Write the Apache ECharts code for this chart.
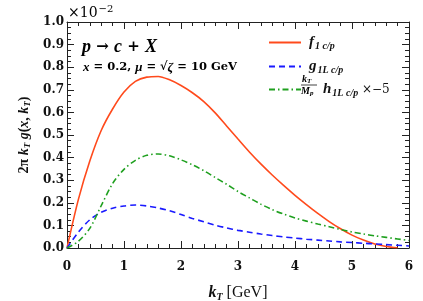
<!DOCTYPE html>
<html><head><meta charset="utf-8">
<script src="https://cdn.jsdelivr.net/npm/echarts@6/dist/echarts.min.js"></script>
<style>html,body{margin:0;padding:0;background:#fff}#c{width:423px;height:301px}</style>
</head><body><div id="c"></div>
<script>
const kT  = [0,0.2,0.4,0.6,0.8,1.0,1.2,1.4,1.6,1.8,2.0,2.2,2.4,2.6,2.8,3.0,3.2,3.4,3.6,3.8,4.0,4.2,4.4,4.6,4.8,5.0,5.2,5.4,5.6,5.8,6.0];
const f1  = [0,0.215,0.385,0.52,0.615,0.69,0.737,0.756,0.759,0.744,0.719,0.687,0.648,0.598,0.54,0.482,0.425,0.372,0.323,0.277,0.233,0.192,0.153,0.117,0.085,0.057,0.035,0.018,0.007,0.001,null];
const g1L = [0,0.07,0.125,0.158,0.176,0.186,0.19,0.186,0.177,0.165,0.148,0.131,0.116,0.101,0.089,0.078,0.07,0.062,0.055,0.049,0.044,0.039,0.035,0.031,0.027,0.024,0.021,0.018,0.015,0.012,0.009];
const h1L = [0,0.03,0.087,0.187,0.285,0.348,0.388,0.41,0.416,0.408,0.39,0.368,0.342,0.312,0.282,0.25,0.222,0.194,0.17,0.15,0.133,0.119,0.106,0.094,0.082,0.071,0.062,0.054,0.047,0.04,0.033];

const pair = a => kT.map((k,i)=>[k,a[i]]);
const SERIF = '"DejaVu Serif", serif';
const MATH = '"Liberation Serif", serif';
const RED='#ff4a1c', BLUE='#1a1aff', GREEN='#1fa01f';
const FRAME='#222';
const G = {left:67,right:14,top:22,bottom:53};

const grids = [{left:G.left,right:G.right,top:G.top,bottom:G.bottom,outerBoundsMode:'none'}];
const labelStyle = {fontFamily:SERIF,fontWeight:'bold',fontSize:12,color:'#111'};
const noTicks = {axisTick:{show:false},minorTick:{show:false},splitLine:{show:false}};
const xAxes = [
  Object.assign({type:'value',gridIndex:0,min:0,max:6,interval:1,position:'bottom',
    axisLine:{show:true,onZero:false,lineStyle:{color:FRAME}},
    axisLabel:Object.assign({margin:13},labelStyle),
    name:'{i|k}{s|T}{n| [GeV]}',nameLocation:'middle',nameGap:36,
    nameTextStyle:{rich:{
      i:{fontFamily:MATH,fontStyle:'italic',fontWeight:'bold',fontSize:16,color:'#111'},
      s:{fontFamily:MATH,fontStyle:'italic',fontWeight:'bold',fontSize:10,color:'#111',padding:[8,0,0,0]},
      n:{fontFamily:MATH,fontSize:16,color:'#111'}}}},noTicks),
  Object.assign({type:'value',gridIndex:0,min:0,max:6,interval:1,position:'top',
    axisLine:{show:true,onZero:false,lineStyle:{color:FRAME}},axisLabel:{show:false}},noTicks)
];
const yAxes = [
  Object.assign({type:'value',gridIndex:0,min:0,max:1,interval:0.1,position:'left',
    axisLine:{show:true,onZero:false,lineStyle:{color:FRAME}},
    axisLabel:Object.assign({margin:3,formatter:v=>v.toFixed(1)},labelStyle),
    name:'{n|2π}{i| k}{s|T}{i| g}{n|(}{i|x}{n|, }{i|k}{s|T}{n|)}',nameLocation:'middle',nameGap:33,nameRotate:90,
    nameTextStyle:{rich:{
      i:{fontFamily:MATH,fontStyle:'italic',fontWeight:'bold',fontSize:14,color:'#111'},
      s:{fontFamily:MATH,fontStyle:'italic',fontWeight:'bold',fontSize:9,color:'#111',padding:[7,0,0,0]},
      n:{fontFamily:MATH,fontWeight:'bold',fontSize:14,color:'#111'}}}},noTicks),
  Object.assign({type:'value',gridIndex:0,min:0,max:1,interval:0.1,position:'right',
    axisLine:{show:true,onZero:false,lineStyle:{color:FRAME}},axisLabel:{show:false}},noTicks)
];

// tick strips: thin grids along each edge whose split lines act as inward ticks
function tickStrip(side, len, interval){
  const gi = grids.length;
  const g = {outerBoundsMode:'none'};
  if (side==='bottom') Object.assign(g,{left:G.left,right:G.right,bottom:G.bottom,height:len});
  if (side==='top')    Object.assign(g,{left:G.left,right:G.right,top:G.top,height:len});
  if (side==='left')   Object.assign(g,{left:G.left,top:G.top,bottom:G.bottom,width:len});
  if (side==='right')  Object.assign(g,{right:G.right,top:G.top,bottom:G.bottom,width:len});
  grids.push(g);
  const tickAx = {type:'value',gridIndex:gi,interval:interval,
    axisLine:{show:false},axisTick:{show:false},axisLabel:{show:false},
    splitLine:{show:true,lineStyle:{color:FRAME,width:1}}};
  const hidden = {type:'value',gridIndex:gi,show:false,min:0,max:1};
  if (side==='bottom'||side==='top'){
    xAxes.push(Object.assign({min:0,max:6},tickAx)); yAxes.push(hidden);
  } else {
    yAxes.push(Object.assign({min:0,max:1},tickAx)); xAxes.push(hidden);
  }
}
['bottom','top'].forEach(s=>{tickStrip(s,7,1);tickStrip(s,4,0.2);});
['left','right'].forEach(s=>{tickStrip(s,7,0.1);tickStrip(s,4,0.025);});

const chart = echarts.init(document.getElementById('c'));
const legendText = {
  f1: '{i|f}{s|1 c/p}',
  g1L: '{i|g}{s|1L c/p}',
  h1L: '{i|h}{s|1L c/p}{n| ×−5}'
};
const legRich = {
  i:{fontFamily:MATH,fontStyle:'italic',fontWeight:'bold',fontSize:15,color:'#111'},
  s:{fontFamily:MATH,fontStyle:'italic',fontWeight:'bold',fontSize:10,color:'#111',padding:[7,0,0,1]},
  n:{fontFamily:SERIF,fontSize:12,color:'#111'}
};
function leg(name, top, extraPad){
  return {data:[name],left:263,top:top,itemWidth:32,itemHeight:10,itemGap:0,
    selectedMode:false,
    itemStyle:{opacity:0},
    formatter:n=>legendText[n],
    textStyle:{rich:legRich,padding:[0,0,0,extraPad]}};
}
chart.setOption({
  animation:false,
  grid:grids,
  legend:[leg('f1',30,3),leg('g1L',54,3),leg('h1L',77,17)],
  xAxis:xAxes,
  yAxis:yAxes,
  series:[
    {name:'f1',type:'line',xAxisIndex:0,yAxisIndex:0,data:pair(f1),showSymbol:false,symbol:'none',smooth:0.3,
      lineStyle:{color:RED,width:1.6},itemStyle:{color:RED}},
    {name:'g1L',type:'line',xAxisIndex:0,yAxisIndex:0,data:pair(g1L),showSymbol:false,symbol:'none',smooth:0.3,
      lineStyle:{color:BLUE,width:1.6,type:[6,4]},itemStyle:{color:BLUE}},
    {name:'h1L',type:'line',xAxisIndex:0,yAxisIndex:0,data:pair(h1L),showSymbol:false,symbol:'none',smooth:0.3,
      lineStyle:{color:GREEN,width:1.6,type:[6,3,1.5,3]},itemStyle:{color:GREEN}}
  ],
  graphic:[
    {type:'text',left:68,top:4,style:{text:'{n|×10}{s|−2}',rich:{
      n:{fontFamily:SERIF,fontSize:14,color:'#111'},
      s:{fontFamily:SERIF,fontSize:10,color:'#111',padding:[0,0,8,1]}}}},
    {type:'text',left:82,top:38,style:{text:'{i|p}{n| → }{i|c}{n| + }{i|X}',rich:{
      i:{fontFamily:MATH,fontStyle:'italic',fontWeight:'bold',fontSize:18,color:'#111'},
      n:{fontFamily:SERIF,fontWeight:'bold',fontSize:15,color:'#111'}}}},
    {type:'text',left:83,top:61,style:{text:'{i|x}{n| = 0.2, }{i|μ}{n| = √}{i|ζ}{n| = 10 GeV}',rich:{
      i:{fontFamily:MATH,fontStyle:'italic',fontWeight:'bold',fontSize:13,color:'#111'},
      n:{fontFamily:SERIF,fontWeight:'bold',fontSize:11.5,color:'#111'}}}},
    {type:'text',left:302,top:74,style:{text:'{i|k}{s|T}',rich:{
      i:{fontFamily:MATH,fontStyle:'italic',fontWeight:'bold',fontSize:10,color:'#111'},
      s:{fontFamily:MATH,fontStyle:'italic',fontWeight:'bold',fontSize:7,color:'#111',padding:[4,0,0,0]}}}},
    {type:'line',shape:{x1:301,y1:85,x2:317,y2:85},style:{stroke:'#111',lineWidth:0.8}},
    {type:'text',left:301,top:86,style:{text:'{i|M}{s|p}',rich:{
      i:{fontFamily:MATH,fontStyle:'italic',fontWeight:'bold',fontSize:10,color:'#111'},
      s:{fontFamily:MATH,fontStyle:'italic',fontWeight:'bold',fontSize:7,color:'#111',padding:[4,0,0,0]}}}}
  ]
});
</script></body></html>
